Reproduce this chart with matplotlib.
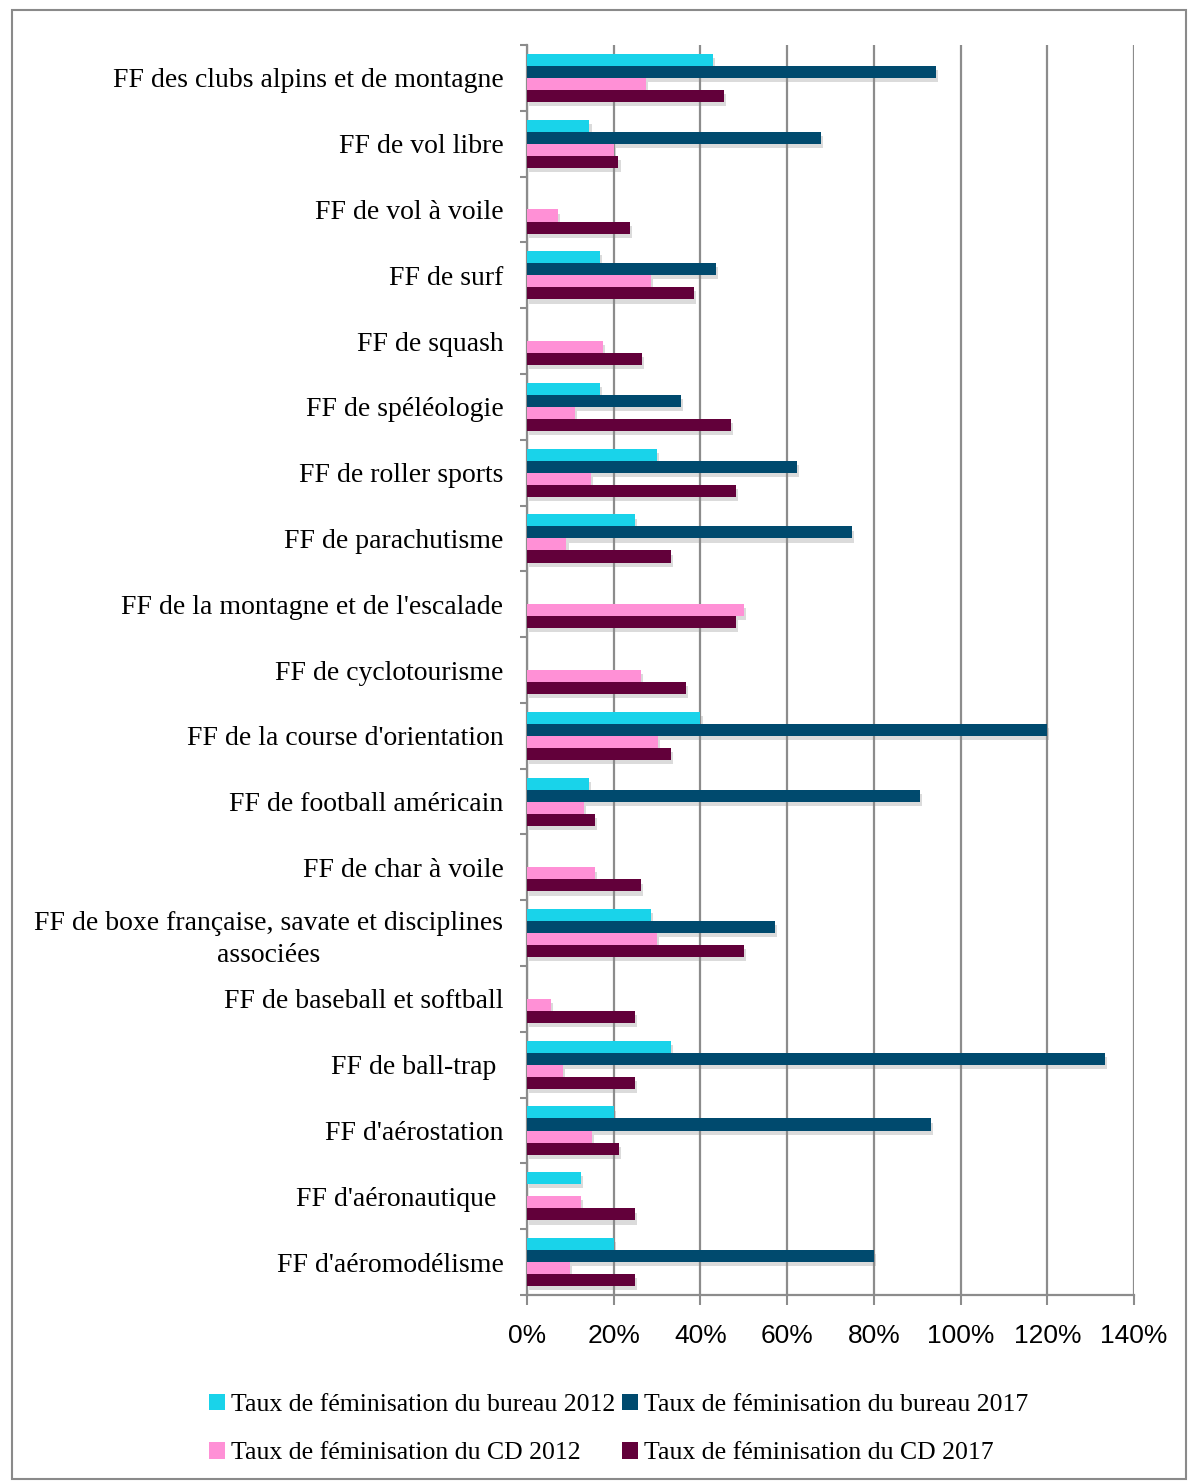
import matplotlib
matplotlib.use("Agg")
import matplotlib.pyplot as plt
import matplotlib.patheffects as pe
from matplotlib.patches import Rectangle, Patch
from matplotlib.ticker import PercentFormatter
import numpy as np

categories = [
    "FF des clubs alpins et de montagne",
    "FF de vol libre",
    "FF de vol à voile",
    "FF de surf",
    "FF de squash",
    "FF de spéléologie",
    "FF de roller sports",
    "FF de parachutisme",
    "FF de la montagne et de l'escalade",
    "FF de cyclotourisme",
    "FF de la course d'orientation",
    "FF de football américain",
    "FF de char à voile",
    "FF de boxe française, savate et disciplines\nassociées",
    "FF de baseball et softball",
    "FF de ball-trap ",
    "FF d'aérostation",
    "FF d'aéronautique ",
    "FF d'aéromodélisme",
]

bureau_2012 = [0.429, 0.144, 0, 0.168, 0, 0.168, 0.30, 0.25, 0, 0, 0.40, 0.143, 0, 0.286, 0, 0.333, 0.20, 0.125, 0.20]
bureau_2017 = [0.943, 0.678, 0, 0.435, 0, 0.355, 0.622, 0.75, 0, 0, 1.20, 0.906, 0, 0.571, 0, 1.333, 0.932, 0, 0.80]
cd_2012 = [0.274, 0.20, 0.072, 0.285, 0.176, 0.111, 0.148, 0.091, 0.50, 0.262, 0.303, 0.132, 0.157, 0.30, 0.055, 0.082, 0.149, 0.125, 0.10]
cd_2017 = [0.454, 0.211, 0.238, 0.385, 0.266, 0.47, 0.482, 0.333, 0.482, 0.366, 0.332, 0.157, 0.262, 0.50, 0.248, 0.25, 0.213, 0.25, 0.25]

series_names = [
    "Taux de féminisation du bureau 2012",
    "Taux de féminisation du bureau 2017",
    "Taux de féminisation du CD 2012",
    "Taux de féminisation du CD 2017",
]
series_values = [bureau_2012, bureau_2017, cd_2012, cd_2017]
series_colors = ["#19D3EA", "#004A6E", "#FF90D6", "#62003A"]

serif = ["Liberation Serif", "DejaVu Serif"]
sans = ["Liberation Sans Narrow", "Liberation Sans", "DejaVu Sans"]

W, H = 1189, 1481
fig = plt.figure(figsize=(W / 100, H / 100), dpi=100)
fig.patch.set_facecolor("white")

# outer frame
fig.add_artist(Rectangle((12 / W, 2 / H), (1186 - 12) / W, (H - 10 - 2) / H,
                         transform=fig.transFigure, fill=False,
                         edgecolor="#8a8a8a", linewidth=1.5))

ax = fig.add_axes([527 / W, 1 - 1295 / H, (1134 - 527) / W, (1295 - 45) / H])

n = len(categories)
y = np.arange(n)
h = 0.183
offsets = [-1.5, -0.5, 0.5, 1.5]
for name, vals, col, off in zip(series_names, series_values, series_colors, offsets):
    b = ax.barh(y + off * h, vals, height=h, color=col, label=name, zorder=3,
                edgecolor="none")
    for r in b:
        r.set_path_effects([pe.SimplePatchShadow(offset=(1.5, -3), shadow_rgbFace="#8a8a8a", alpha=0.3),
                            pe.Normal()])

ax.set_ylim(n - 0.5, -0.5)
ax.set_xlim(0, 1.4)
ax.set_xticks(np.arange(0, 1.41, 0.2))
ax.xaxis.set_major_formatter(PercentFormatter(1.0, decimals=0))
ax.grid(axis="x", color="#8c8c8c", linewidth=1.6, zorder=0)
ax.set_axisbelow(True)

ax.set_yticks(y)
ax.set_yticklabels(categories, fontfamily=serif, fontsize=20)
for lbl in ax.get_yticklabels():
    lbl.set_multialignment("center")
    lbl.set_linespacing(1.35)
ax.tick_params(axis="y", which="major", length=0, pad=17)
ax.set_yticks(np.arange(-0.5, n, 1), minor=True)
ax.tick_params(axis="y", which="minor", length=5, width=1.5, color="#8c8c8c", direction="out")

ax.tick_params(axis="x", length=7, width=1.5, color="#8c8c8c", pad=14)
for lbl in ax.get_xticklabels():
    lbl.set_fontfamily(sans)
    lbl.set_fontsize(19)

for s in ["top", "right"]:
    ax.spines[s].set_visible(False)
for s in ["left", "bottom"]:
    ax.spines[s].set_color("#8c8c8c")
    ax.spines[s].set_linewidth(1.6)

proxies = [Patch(facecolor=c, edgecolor="none") for c in series_colors]
order = [0, 2, 1, 3]
fig.legend([proxies[i] for i in order], [series_names[i] for i in order], ncol=2,
           loc="upper left", bbox_to_anchor=(196 / W, 1 - 1381 / H), frameon=False,
           prop={"family": serif, "size": 18.5},
           handlelength=0.62, handleheight=0.62, handletextpad=0.25,
           columnspacing=0.25, labelspacing=1.0, borderpad=0)

fig.savefig("out.png", dpi=100, facecolor="white")
